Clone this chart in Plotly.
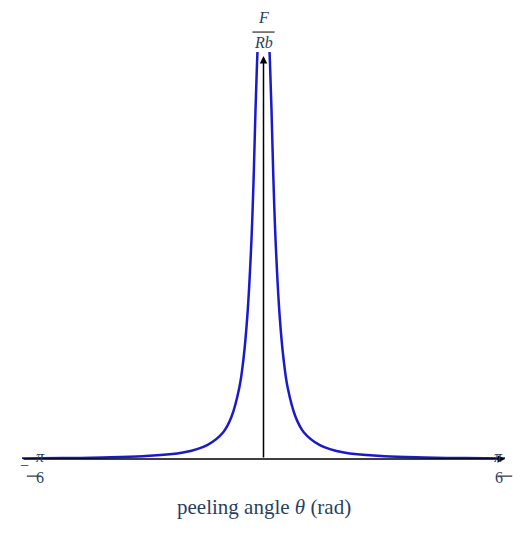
import numpy as np
import plotly.graph_objects as go

# peeling angle in degrees (one side, curve is symmetric) and normalised force
theta_deg = [0.45, 0.6, 0.8, 1.0, 1.2, 1.5, 2.0, 2.5, 3.0, 4.0, 5.0, 7.0, 10.0, 15.0, 20.0, 25.0, 30.0]
force = [480, 440, 400, 350, 290, 220, 145, 100, 72, 42, 27, 14, 6.5, 2.8, 1.5, 0.9, 0.6]

half = np.radians(theta_deg)
x = np.concatenate([-half[::-1], [np.nan], half])
y = np.concatenate([force[::-1], [np.nan], force])

x_min, x_max = -np.pi / 6, np.pi / 6
y_max = 410
serif = "Liberation Serif"

fig = go.Figure()
fig.add_trace(go.Scatter(x=x, y=y, mode="lines", line=dict(color="#1a1acc", width=2.5, shape="spline"),
                         hoverinfo="skip", showlegend=False))

# axes with arrows
fig.add_annotation(x=x_max, y=0, ax=x_min, ay=0, xref="x", yref="y", axref="x", ayref="y",
                   showarrow=True, arrowhead=2, arrowsize=1, arrowwidth=1.5, text="", arrowcolor="black")
fig.add_annotation(x=0, y=y_max - 4, ax=0, ay=0, xref="x", yref="y", axref="x", ayref="y",
                   showarrow=True, arrowhead=2, arrowsize=1, arrowwidth=1.5, text="", arrowcolor="black")

# tick labels pi/6
for px_paper in [0.025, 1.0]:
    fig.add_annotation(xref="paper", yref="paper", x=px_paper, y=-0.02, text="<i>π</i>",
                       showarrow=False, font=dict(family=serif, size=16))
    fig.add_annotation(xref="paper", yref="paper", x=px_paper, y=-0.072, text="6",
                       showarrow=False, font=dict(family=serif, size=16))
    fig.add_shape(type="line", xref="paper", yref="paper", x0=px_paper - 0.015, x1=px_paper + 0.015,
                  y0=-0.042, y1=-0.042, line=dict(color="black", width=1))
fig.add_annotation(xref="paper", yref="paper", x=0.0, y=-0.042, xshift=-4, text="−",
                   showarrow=False, font=dict(family=serif, size=16))

# y label F / Rb
fig.add_annotation(x=0, y=y_max, yshift=35, text="<i>F</i>", showarrow=False,
                   font=dict(family=serif, size=16))
fig.add_annotation(x=0, y=y_max, yshift=10, text="<i>Rb</i>", showarrow=False,
                   font=dict(family=serif, size=16))
fig.add_shape(type="line", xref="x", yref="paper", x0=-0.024, x1=0.024, y0=1.049, y1=1.049,
              line=dict(color="black", width=1))

fig.add_annotation(xref="paper", yref="paper", x=0.5, y=-0.152, text="peeling angle <i>θ</i> (rad)",
                   showarrow=False, font=dict(family=serif, size=21))

fig.update_xaxes(range=[x_min, x_max], visible=False)
fig.update_yaxes(range=[0, y_max], visible=False)
fig.update_layout(width=521, height=550, margin=dict(l=14, r=24, t=44, b=99),
                  plot_bgcolor="white", paper_bgcolor="white")

fig.write_html("out.html")
